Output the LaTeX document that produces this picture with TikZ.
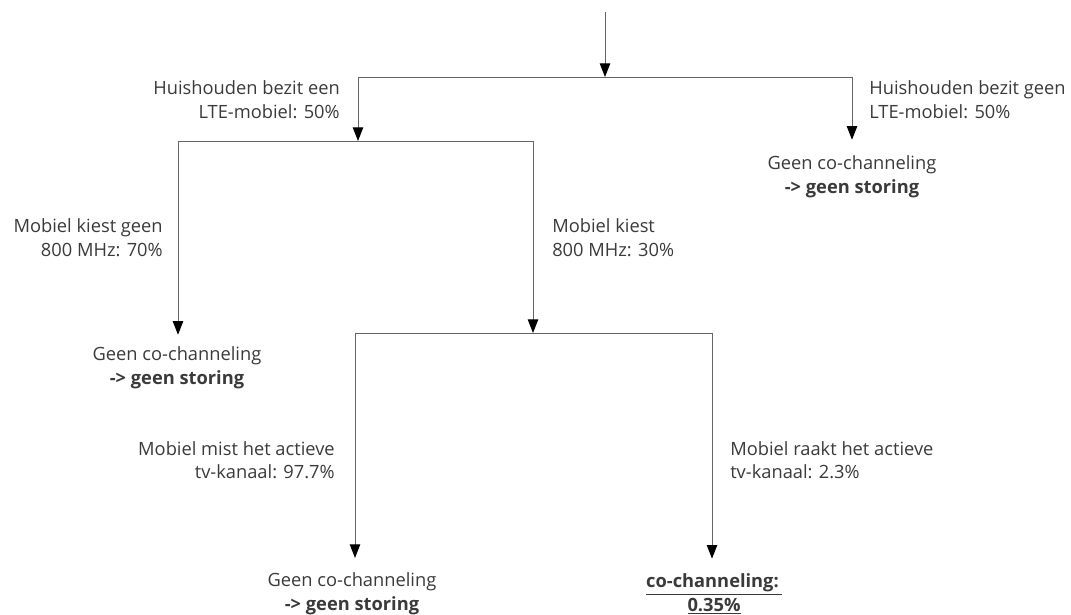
\documentclass[tikz,border=0pt]{standalone}
\usepackage{fontspec}
\setmainfont{Open Sans}
\usetikzlibrary{positioning,arrows.meta}
\definecolor{treeline}{HTML}{666666}
\definecolor{treetext}{HTML}{3A3A3A}
\tikzset{
  branch/.style={draw=treeline, line width=0.7pt},
  split/.style={branch, -{Triangle[length=3.4mm, width=2.6mm, color=black]}},
  plab/.style={font=\fontsize{13}{16.8}\selectfont, text=treetext, inner sep=0pt},
  leftlab/.style={plab, anchor=east, align=right},
  rightlab/.style={plab, anchor=west, align=left},
  outcome/.style={plab, align=center},
}
\begin{document}
\begin{tikzpicture}[x=0.025cm, y=-0.025cm]
  \useasboundingbox (0,0) rectangle (1071,615);
  % splitting points
  \coordinate (top) at (605,12);
  \coordinate (j0) at (605,77);
  \coordinate (j0l) at (358,77);
  \coordinate (j0r) at (852,77);
  \coordinate (j1) at (358,141);
  \coordinate (j1l) at (178,141);
  \coordinate (j1r) at (533,141);
  \coordinate (j2) at (533,333);
  \coordinate (j2l) at (355,333);
  \coordinate (j2r) at (712,333);

  % outcomes
  \node[outcome] (endA) at (852,177) {Geen co-channeling\\\textbf{-> geen storing}};
  \node[outcome] (endB) at (177,368) {Geen co-channeling\\\textbf{-> geen storing}};
  \node[outcome] (endC) at (352,594) {Geen co-channeling\\\textbf{-> geen storing}};
  \node[outcome] (endD) at (714,594) {\underline{\textbf{co-channeling:\,}}\\\underline{\textbf{0.35\%}}};

  % branch labels
  \node[leftlab] (lteyes) at (340,100) {Huishouden bezit een\\LTE-mobiel: 50\%};
  \node[rightlab] (lteno) at (869,100) {Huishouden bezit geen\\LTE-mobiel: 50\%};
  \node[leftlab] (mhzno) at (163,238) {Mobiel kiest geen\\800 MHz: 70\%};
  \node[rightlab] (mhzyes) at (552,238) {Mobiel kiest\\800 MHz: 30\%};
  \node[leftlab] (tvmiss) at (335,460) {Mobiel mist het actieve\\tv-kanaal: 97.7\%};
  \node[rightlab] (tvhit) at (730,460) {Mobiel raakt het actieve\\tv-kanaal: 2.3\%};

  % connectors
  \draw[split] (top) -- (j0);
  \draw[branch] (j0l) -- (j0r);
  \draw[split] (j0l) -- (j1);
  \draw[split] (j0r) -- ([yshift=0.4cm]endA.north -| j0r);
  \draw[branch] (j1l) -- (j1r);
  \draw[split] (j1l) -- ([yshift=0.3cm]endB.north -| j1l);
  \draw[split] (j1r) -- (j2);
  \draw[branch] (j2l) -- (j2r);
  \draw[split] (j2l) -- ([yshift=0.37cm]endC.north -| j2l);
  \draw[split] (j2r) -- ([yshift=0.37cm]endD.north -| j2r);
\end{tikzpicture}
\end{document}
